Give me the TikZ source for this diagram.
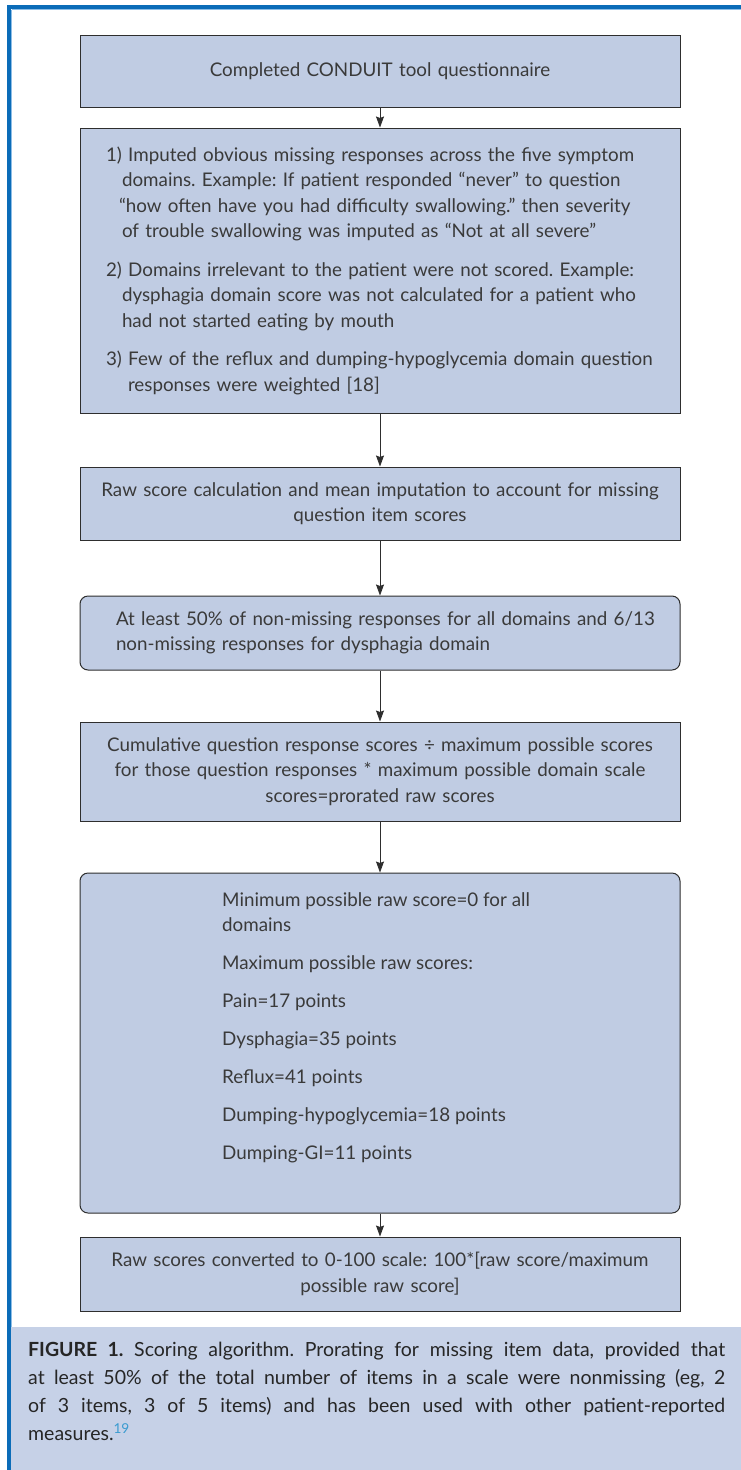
\documentclass[tikz,border=0pt]{standalone}
\usepackage{fontspec}
\setmainfont{Lato}
\usetikzlibrary{arrows.meta}
\definecolor{boxfill}{HTML}{C0CCE3}
\definecolor{capfill}{HTML}{C6D1E7}
\definecolor{frameblue}{HTML}{0B6CB8}
\definecolor{framelight}{HTML}{8DBDE6}
\definecolor{boxline}{HTML}{2E2E2E}
\definecolor{txt}{HTML}{3A3A3A}
\definecolor{captxt}{HTML}{262626}
\definecolor{reflink}{HTML}{3A9BD0}
\newcommand{\bodyfont}{\fontsize{18.8}{25.5}\selectfont\frenchspacing}
\newcommand{\capfont}{\fontsize{19.5}{28}\selectfont\frenchspacing}
\begin{document}
\begin{tikzpicture}[x=1pt,y=-1pt,
  box/.style={draw=boxline, fill=boxfill, line width=1pt, minimum width=600pt,
    inner sep=0pt, text=txt, font=\bodyfont},
  rbox/.style={box, rounded corners=8pt},
  arr/.style={-{Stealth[length=11pt,width=8pt,inset=1.5pt]}, line width=0.8pt, draw=boxline},
  plain/.style={inner sep=0pt, text=txt, font=\bodyfont}]
\useasboundingbox (0,0) rectangle (741,1470);
\fill[white] (0,0) rectangle (741,1470);
\fill[capfill] (11,1327) rectangle (741,1470);
% frame
\fill[frameblue] (7,5) rectangle (741,9);
\fill[frameblue] (7,5) rectangle (11,1470);
\draw[framelight, line width=1pt] (11.5,9.5) -- (741,9.5);
\draw[framelight, line width=1pt] (11.5,9.5) -- (11.5,1327);

\node[box, minimum height=72pt, text width=560pt, align=center] (b1) at (380,71)
  {Completed CONDUIT tool questionnaire};

\node[box, minimum height=285pt, text width=548pt, align=left] (b2) at (380,270.5)
  {1) Imputed obvious missing responses across the five symptom\\
   \hspace*{16pt}domains. Example: If patient responded “never” to question\\
   \hspace*{13pt}“how often have you had difficulty swallowing.” then severity\\
   \hspace*{16pt}of trouble swallowing was imputed as “Not at all severe”\\[13pt]
   2) Domains irrelevant to the patient were not scored. Example:\\
   \hspace*{16pt}dysphagia domain score was not calculated for a patient who\\
   \hspace*{16pt}had not started eating by mouth\\[13pt]
   3) Few of the reflux and dumping-hypoglycemia domain question\\
   \hspace*{22pt}responses were weighted [18]};

\node[box, minimum height=73pt, text width=570pt, align=center] (b3) at (380,503.5)
  {Raw score calculation and mean imputation to account for missing\\
   question item scores};

\node[rbox, minimum height=74pt, text width=580pt, align=left] (b4) at (380,633)
  {\hspace*{26pt}At least 50\% of non-missing responses for all domains and 6/13\\
   \hspace*{26pt}non-missing responses for dysphagia domain};

\node[box, minimum height=99pt, text width=570pt, align=center] (b5) at (380,771.5)
  {Cumulative question response scores ÷ maximum possible scores\\
   for those question responses * maximum possible domain scale\\
   scores=prorated raw scores};

\node[rbox, minimum height=340pt] (b6) at (380,1043) {};
\node[plain, anchor=west, align=left] (b6t) at (222,1028)
  {Minimum possible raw score=0 for all\\
   domains\\[12.5pt]
   Maximum possible raw scores:\\[12.5pt]
   Pain=17 points\\[12.5pt]
   Dysphagia=35 points\\[12.5pt]
   Reflux=41 points\\[12.5pt]
   Dumping-hypoglycemia=18 points\\[12.5pt]
   Dumping-GI=11 points};

\node[box, minimum height=74pt, text width=560pt, align=center] (b7) at (380,1274)
  {Raw scores converted to 0-100 scale: 100*[raw score/maximum\\
   possible raw score]};

\draw[arr] (b1.south) -- (b2.north);
\draw[arr] (b2.south) -- (b3.north);
\draw[arr] (b3.south) -- (b4.north);
\draw[arr] (b4.south) -- (b5.north);
\draw[arr] (b5.south) -- (b6.north);
\draw[arr] (b6.south) -- (b7.north);

\node[anchor=north west, inner sep=0pt, text width=697pt, align=justify,
      font=\capfont, text=captxt] (cap) at (28,1342)
  {\hyphenpenalty=10000 \textbf{FIGURE 1.} Scoring algorithm. Prorating for missing item data, provided that\linebreak
   at least 50\% of the total number of items in a scale were nonmissing (eg, 2\linebreak
   of 3 items, 3 of 5 items) and has been used with other patient-reported\linebreak
   measures.\textsuperscript{\textcolor{reflink}{19}}};
\end{tikzpicture}
\end{document}
